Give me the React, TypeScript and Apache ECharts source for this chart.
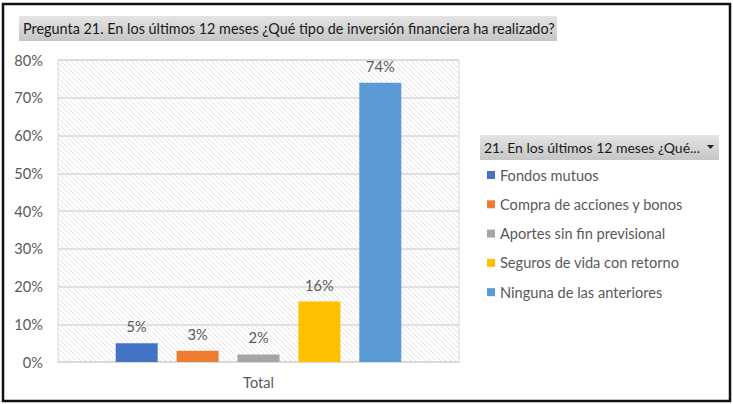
import React, { useEffect, useRef } from "react";
import * as echarts from "echarts";

const titleText = "Pregunta 21. En los últimos 12 meses ¿Qué tipo de inversión financiera ha realizado?";
const legendTitle = "21. En los últimos 12 meses ¿Qué...";
const categories = ["Total"];
const seriesNames = [
  "Fondos mutuos",
  "Compra de acciones y bonos",
  "Aportes sin fin previsional",
  "Seguros de vida con retorno",
  "Ninguna de las anteriores",
];
const seriesValues = [5, 3, 2, 16, 74];
const seriesColors = ["#4472C4", "#ED7D31", "#A5A5A5", "#FFC000", "#5B9BD5"];
const yMax = 80;
const yInterval = 10;

const FONT = "Lato, 'Noto Sans', sans-serif";
const FS = 14.6;

function makeHatch(): string {
  const c = document.createElement("canvas");
  c.width = 5;
  c.height = 5;
  const ctx = c.getContext("2d")!;
  ctx.fillStyle = "#ffffff";
  ctx.fillRect(0, 0, 5, 5);
  ctx.fillStyle = "#e2e2e2";
  for (let i = 0; i < 5; i++) ctx.fillRect(i, i, 1, 1);
  return c.toDataURL("image/png");
}

export default function App() {
  const ref = useRef<HTMLDivElement>(null);
  useEffect(() => {
    document.body.style.margin = "0";
    const chart = echarts.init(ref.current!, null, { renderer: "svg" });
    const hatch = makeHatch();
    const option: any = {
      animation: false,
      backgroundColor: "#ffffff",
      textStyle: { fontFamily: FONT },
      grid: {
        left: 58,
        right: 274,
        top: 60,
        bottom: 42,
        show: true,
        borderColor: "#d9d9d9",
        borderWidth: 1,
        backgroundColor: { image: hatch, repeat: "repeat", imageWidth: 5, imageHeight: 5 },
      },
      legend: {
        orient: "vertical",
        left: 487,
        top: 167,
        padding: 0,
        itemWidth: 8,
        itemHeight: 8,
        itemGap: 13.3,
        icon: "rect",
        selectedMode: false,
        textStyle: { color: "#595959", fontSize: FS, fontFamily: FONT, lineHeight: 16 },
        data: seriesNames,
      },
      xAxis: {
        type: "category",
        data: categories,
        axisTick: { show: false },
        axisLine: { lineStyle: { color: "#d9d9d9", width: 1.5 } },
        axisLabel: { color: "#595959", fontSize: FS, margin: 13, fontFamily: FONT },
      },
      yAxis: {
        type: "value",
        min: 0,
        max: yMax,
        interval: yInterval,
        axisLine: { show: false },
        axisTick: { show: false },
        splitLine: { lineStyle: { color: "#d9d9d9", width: 1.5 } },
        axisLabel: {
          color: "#595959",
          fontSize: FS,
          margin: 15,
          fontFamily: FONT,
          formatter: "{value}%",
        },
      },
      series: seriesNames.map((name, i) => ({
        name,
        type: "bar",
        data: [seriesValues[i]],
        barWidth: 42,
        barGap: "45%",
        itemStyle: { color: seriesColors[i] },
        label: {
          show: true,
          position: "top",
          distance: 9,
          color: "#595959",
          fontSize: FS,
          fontFamily: FONT,
          formatter: "{c}%",
        },
      })),
      graphic: [
        {
          type: "rect",
          shape: { x: 3, y: 4, width: 727, height: 397 },
          style: { fill: "none", stroke: "#111111", lineWidth: 2.5 },
          silent: true,
        },
        {
          type: "rect",
          shape: { x: 19, y: 16, width: 538, height: 25 },
          style: {
            fill: new echarts.graphic.LinearGradient(0, 0, 0, 1, [
              { offset: 0, color: "#e4e4e4" },
              { offset: 1, color: "#c6c6c6" },
            ]),
          },
          silent: true,
        },
        {
          type: "text",
          x: 23,
          y: 28.5,
          style: {
            text: titleText,
            fill: "#1a1a1a",
            fontSize: 14.4,
            fontFamily: FONT,
            verticalAlign: "middle",
          },
          silent: true,
        },
        {
          type: "rect",
          shape: { x: 480, y: 135, width: 239, height: 25 },
          style: {
            fill: new echarts.graphic.LinearGradient(0, 0, 0, 1, [
              { offset: 0, color: "#e4e4e4" },
              { offset: 1, color: "#c6c6c6" },
            ]),
          },
          silent: true,
        },
        {
          type: "text",
          x: 484,
          y: 147.5,
          style: {
            text: legendTitle,
            fill: "#1a1a1a",
            fontSize: 14,
            fontFamily: FONT,
            verticalAlign: "middle",
          },
          silent: true,
        },
        {
          type: "polygon",
          shape: { points: [[707, 145], [714, 145], [710.5, 149]] },
          style: { fill: "#222222" },
          silent: true,
        },
      ],
    };
    chart.setOption(option);
    return () => chart.dispose();
  }, []);
  return <div ref={ref} style={{ width: 733, height: 404, position: "fixed", left: 0, top: 0 }} />;
}
